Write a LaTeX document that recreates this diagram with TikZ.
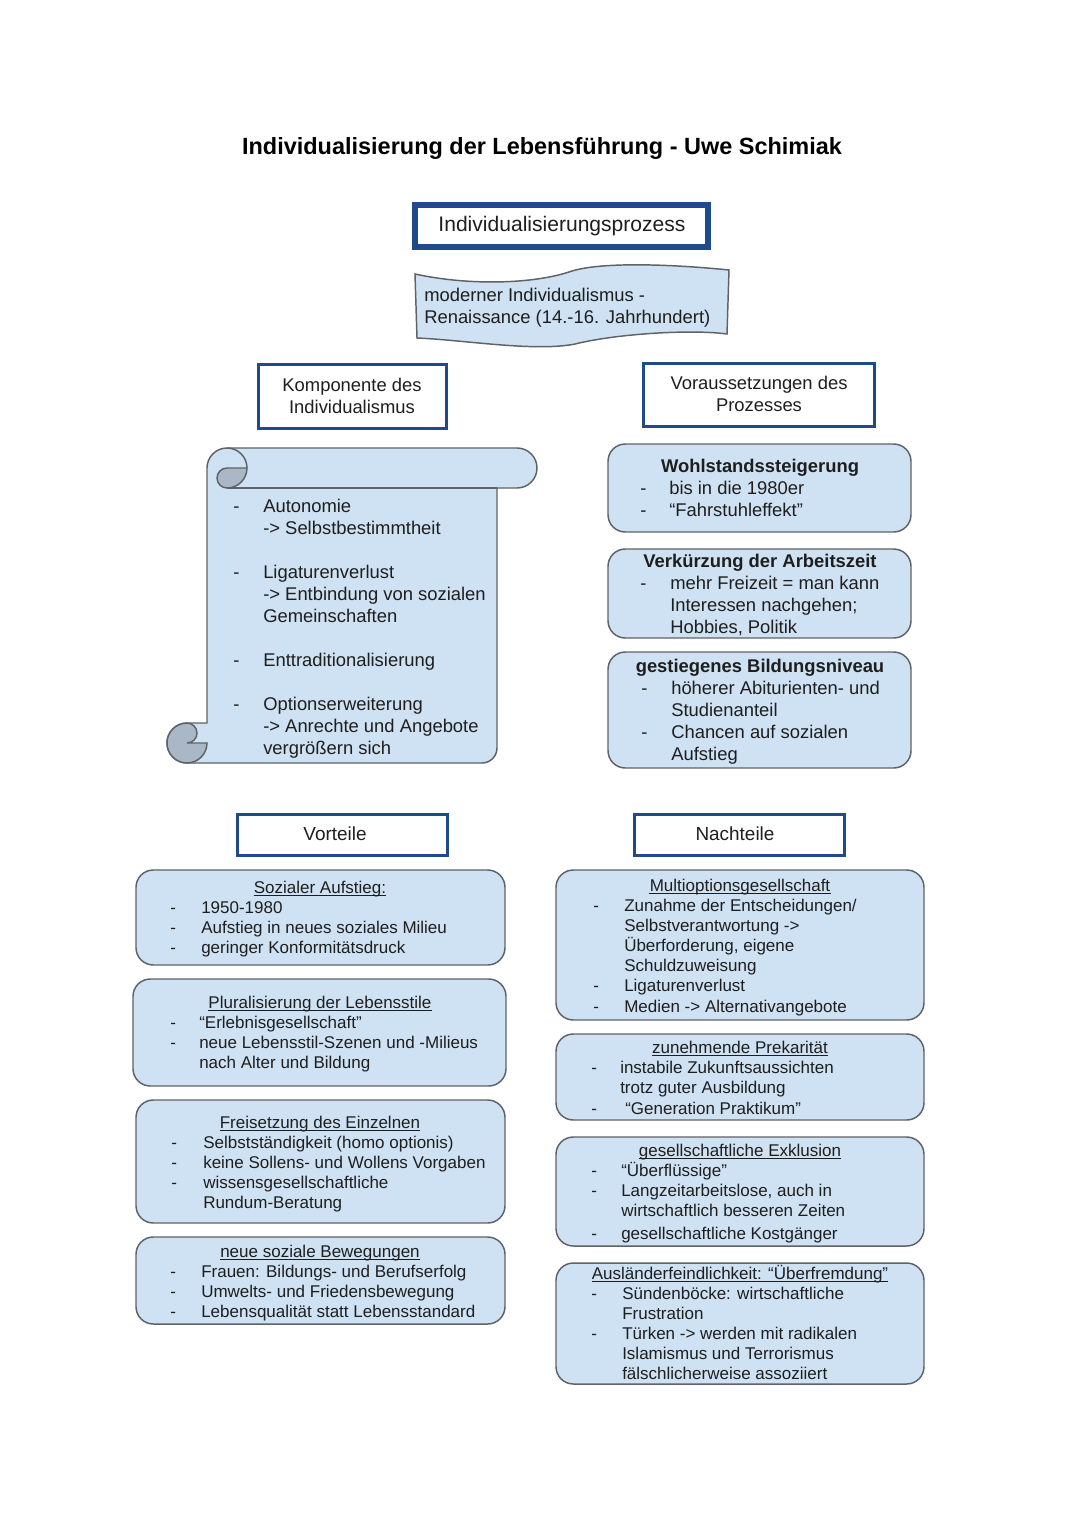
\documentclass[tikz,border=0pt]{standalone}
\usepackage{fontspec}
\setmainfont{Liberation Sans}
\definecolor{boxfill}{HTML}{CFE2F3}
\definecolor{boxline}{HTML}{5F6368}
\definecolor{hdrblue}{HTML}{1F4A8C}
\definecolor{curlc}{HTML}{A9B7C6}
\definecolor{txtc}{HTML}{1E1E1E}
\newcounter{tn}
\newcommand\tline[4][tx]{\stepcounter{tn}\node[#1] (tn\arabic{tn}) at (#2,#3) {#4};}
\newcommand\uttl[4]{\node[ts, anchor=base] (#1) at (#2,#3) {#4};
  \draw[uline] ([yshift=-1.7pt]#1.base west) -- ([yshift=-1.7pt]#1.base east);}
\newcommand\bx[6]{\node[#1, outer sep=0pt, anchor=north west, minimum width={(#4-#2)*0.75pt}, minimum height={(#5-#3)*0.75pt}] (#6) at (#2,#3) {};}
\begin{document}
\begin{tikzpicture}[x=0.75pt,y=-0.75pt,
  tx/.style={inner sep=0pt, anchor=base west, text=txtc, font=\fontsize{13.8}{16.5}\selectfont},
  ts/.style={inner sep=0pt, anchor=base west, text=txtc, font=\fontsize{12.75}{15}\selectfont},
  tb/.style={inner sep=0pt, anchor=base, text=txtc, font=\bfseries\fontsize{13.8}{16.5}\selectfont},
  uline/.style={draw=txtc, line width=0.7pt},
  hdr/.style={draw=hdrblue, line width=2.5pt, fill=white, inner sep=0pt},
  softbox/.style={draw=boxline, line width=1.1pt, fill=boxfill, rounded corners=13pt, inner sep=0pt},
  scrollc/.style={draw=boxline, line width=1.1pt, fill=boxfill},
  curl/.style={draw=boxline, line width=1.1pt, fill=curlc},
  htext/.style={inner sep=0pt, text=txtc, align=center, font=\fontsize{13.8}{16.5}\selectfont}
]
\useasboundingbox[fill=white] (0,0) rectangle (1080,1525);

% Title
\node[inner sep=0pt, text=black, font=\bfseries\fontsize{17.6}{20}\selectfont] (title) at (542,148) {Individualisierung der Lebensführung - Uwe Schimiak};

% Top header
\bx{hdr, line width=4.5pt}{415}{205}{708}{247}{proz}
\node[htext, font=\fontsize{15.8}{18}\selectfont] (prozt) at (562,226) {Individualisierungsprozess};

% Wave box
\draw[scrollc] (415,274) .. controls (470,286) and (535,284) .. (572,271) .. controls (605,261) and (680,265) .. (729,270) -- (727,334) .. controls (690,329) and (615,334) .. (575,344) .. controls (535,352) and (465,340) .. (417,338) -- cycle;
\tline{424}{301.5}{moderner Individualismus -}
\tline{424}{323.5}{Renaissance (14.-16. Jahrhundert)}

% Sub headers
\bx{hdr}{258.5}{364.5}{446.5}{428.5}{komp}
\node[htext] (kompt) at (352,396) {Komponente des\\Individualismus};
\bx{hdr}{643.5}{363.5}{874.5}{426.5}{vor}
\node[htext] (vort) at (759,394) {Voraussetzungen des\\Prozesses};

% Scroll
\draw[scrollc] (227,448) -- (517,448) arc[start angle=-90, end angle=90, radius=20] -- (497,488) -- (497,748)
  arc[start angle=0, end angle=90, radius=15] -- (187,763)
  arc[start angle=90, end angle=270, radius=20] -- (207,723) -- (207,468)
  arc[start angle=180, end angle=270, radius=20] -- cycle;
\draw[draw=boxline, line width=1.1pt] (227,488) -- (497,488);
\draw[draw=boxline, line width=1.1pt] (227,448) arc[start angle=-90, end angle=0, radius=20];
\draw[curl] (247,468) arc[start angle=0, end angle=90, radius=20] arc[start angle=90, end angle=270, radius=10] -- cycle;
\draw[curl] (187,723) arc[start angle=-90, end angle=90, radius=10] -- (207,743) arc[start angle=0, end angle=270, radius=20] -- cycle;

\tline{233}{512.5}{-}
\tline{263}{512.5}{Autonomie}
\tline{263}{534.5}{-> Selbstbestimmtheit}
\tline{233}{578.5}{-}
\tline{263}{578.5}{Ligaturenverlust}
\tline{263}{600.5}{-> Entbindung von sozialen}
\tline{263}{622.5}{Gemeinschaften}
\tline{233}{666.5}{-}
\tline{263}{666.5}{Enttraditionalisierung}
\tline{233}{710.5}{-}
\tline{263}{710.5}{Optionserweiterung}
\tline{263}{732.5}{-> Anrechte und Angebote}
\tline{263}{754.5}{vergrößern sich}

% Right column boxes
\bx{softbox}{608}{444}{911}{532}{b1}
\tline[tb]{760}{472.5}{Wohlstandssteigerung}
\tline{640}{494.5}{-}
\tline{669}{494.5}{bis in die 1980er}
\tline{640}{516.5}{-}
\tline{669}{516.5}{“Fahrstuhleffekt”}

\bx{softbox}{608}{549}{911}{638}{b2}
\tline[tb]{760}{567.5}{Verkürzung der Arbeitszeit}
\tline{640}{589.5}{-}
\tline{670}{589.5}{mehr Freizeit = man kann}
\tline{670}{611.5}{Interessen nachgehen;}
\tline{670}{633.5}{Hobbies, Politik}

\bx{softbox}{608}{652}{911}{768}{b3}
\tline[tb]{760}{672.5}{gestiegenes Bildungsniveau}
\tline{641}{694.5}{-}
\tline{671}{694.5}{höherer Abiturienten- und}
\tline{671}{716.5}{Studienanteil}
\tline{641}{738.5}{-}
\tline{671}{738.5}{Chancen auf sozialen}
\tline{671}{760.5}{Aufstieg}

% Vorteile / Nachteile headers
\bx{hdr}{237.5}{814.5}{447.5}{855.5}{vt}
\node[htext, font=\fontsize{14.2}{17}\selectfont] (vtt) at (335,834) {Vorteile};
\bx{hdr}{634.5}{814.5}{844.5}{855.5}{nt}
\node[htext, font=\fontsize{14.2}{17}\selectfont] (ntt) at (735,834) {Nachteile};

% Vorteile boxes
\bx{softbox}{136}{870}{505}{965}{v1}
\uttl{v1t}{320}{893}{Sozialer Aufstieg:}
\tline[ts]{170}{913}{-}\tline[ts]{201}{913}{1950-1980}
\tline[ts]{170}{933}{-}\tline[ts]{201}{933}{Aufstieg in neues soziales Milieu}
\tline[ts]{170}{953}{-}\tline[ts]{201}{953}{geringer Konformitätsdruck}

\bx{softbox}{133}{979}{506}{1086}{v2}
\uttl{v2t}{320}{1008}{Pluralisierung der Lebensstile}
\tline[ts]{170}{1028}{-}\tline[ts]{199}{1028}{“Erlebnisgesellschaft”}
\tline[ts]{170}{1048}{-}\tline[ts]{199}{1048}{neue Lebensstil-Szenen und -Milieus}
\tline[ts]{199}{1068}{nach Alter und Bildung}

\bx{softbox}{136}{1100}{505}{1223}{v3}
\uttl{v3t}{320}{1128}{Freisetzung des Einzelnen}
\tline[ts]{171}{1148}{-}\tline[ts]{203}{1148}{Selbstständigkeit (homo optionis)}
\tline[ts]{171}{1168}{-}\tline[ts]{203}{1168}{keine Sollens- und Wollens Vorgaben}
\tline[ts]{171}{1188}{-}\tline[ts]{203}{1188}{wissensgesellschaftliche}
\tline[ts]{203}{1208}{Rundum-Beratung}

\bx{softbox}{136}{1237}{505}{1324}{v4}
\uttl{v4t}{320}{1257}{neue soziale Bewegungen}
\tline[ts]{170}{1277}{-}\tline[ts]{201}{1277}{Frauen: Bildungs- und Berufserfolg}
\tline[ts]{170}{1297}{-}\tline[ts]{201}{1297}{Umwelts- und Friedensbewegung}
\tline[ts]{170}{1317}{-}\tline[ts]{201}{1317}{Lebensqualität statt Lebensstandard}

% Nachteile boxes
\bx{softbox}{556}{870}{924}{1020}{n1}
\uttl{n1t}{740}{891}{Multioptionsgesellschaft}
\tline[ts]{593}{911}{-}\tline[ts]{624}{911}{Zunahme der Entscheidungen/}
\tline[ts]{624}{931}{Selbstverantwortung ->}
\tline[ts]{624}{951}{Überforderung, eigene}
\tline[ts]{624}{971}{Schuldzuweisung}
\tline[ts]{593}{991}{-}\tline[ts]{624}{991}{Ligaturenverlust}
\tline[ts]{593}{1012}{-}\tline[ts]{624}{1012}{Medien -> Alternativangebote}

\bx{softbox}{556}{1034}{924}{1120}{n2}
\uttl{n2t}{740}{1053}{zunehmende Prekarität}
\tline[ts]{591}{1073}{-}\tline[ts]{620}{1073}{instabile Zukunftsaussichten}
\tline[ts]{620}{1093}{trotz guter Ausbildung}
\tline[ts]{591}{1114}{-}\tline[ts]{625}{1114}{“Generation Praktikum”}

\bx{softbox}{556}{1137}{924}{1246}{n3}
\uttl{n3t}{740}{1156}{gesellschaftliche Exklusion}
\tline[ts]{591}{1176}{-}\tline[ts]{621}{1176}{“Überflüssige”}
\tline[ts]{591}{1196}{-}\tline[ts]{621}{1196}{Langzeitarbeitslose, auch in}
\tline[ts]{621}{1216}{wirtschaftlich besseren Zeiten}
\tline[ts]{591}{1239}{-}\tline[ts]{621}{1239}{gesellschaftliche Kostgänger}

\bx{softbox}{556}{1263}{924}{1384}{n4}
\uttl{n4t}{740}{1279}{Ausländerfeindlichkeit: “Überfremdung”}
\tline[ts]{591}{1299}{-}\tline[ts]{622}{1299}{Sündenböcke: wirtschaftliche}
\tline[ts]{622}{1319}{Frustration}
\tline[ts]{591}{1339}{-}\tline[ts]{622}{1339}{Türken -> werden mit radikalen}
\tline[ts]{622}{1359}{Islamismus und Terrorismus}
\tline[ts]{622}{1379}{fälschlicherweise assoziiert}
\end{tikzpicture}
\end{document}
